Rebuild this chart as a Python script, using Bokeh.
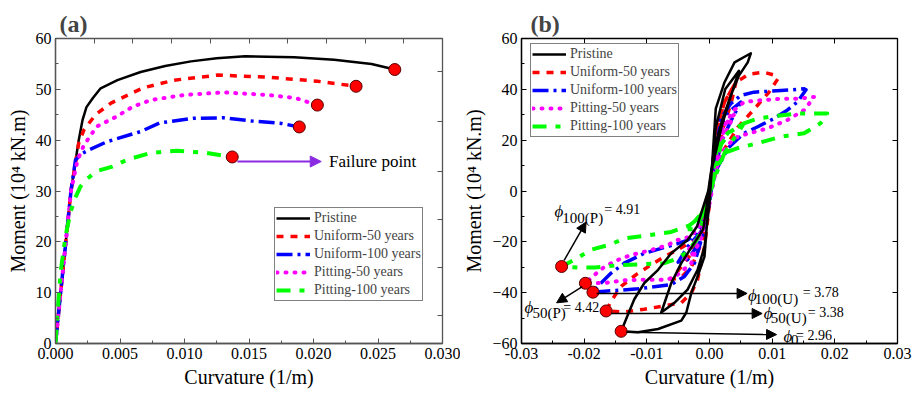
from bokeh.plotting import figure
from bokeh.layouts import row
from bokeh.models import (Range1d, LinearAxis, FixedTicker, SingleIntervalTicker,
                          NumeralTickFormatter, Legend, LegendItem, Arrow, NormalHead, Label)
from bokeh.embed import file_html
from bokeh.resources import INLINE

SERIF = "Liberation Serif"

names = ["Pristine", "Uniform-50 years", "Uniform-100 years", "Pitting-50 years", "Pitting-100 years"]

# ---------------- (a) moment-curvature curves ----------------
a_x_pristine = [0, 0.0004, 0.0008, 0.0012, 0.0018, 0.0021, 0.0024, 0.0029, 0.0035, 0.0048, 0.0066, 0.0085, 0.0105,
                0.0125, 0.0147, 0.0185, 0.0216, 0.0245, 0.0263]
a_y_pristine = [0, 10, 20, 30, 40, 44, 46.5, 48.3, 50.2, 51.8, 53.4, 54.6, 55.5,
                56.1, 56.5, 56.3, 55.8, 55.0, 53.9]
a_x_u50 = [0, 0.0004, 0.0008, 0.0012, 0.0018, 0.0022, 0.0031, 0.0043, 0.0068, 0.0092, 0.0126, 0.0164, 0.0203, 0.0233]
a_y_u50 = [0, 10, 20, 30, 39.4, 42, 45, 47.3, 50.3, 51.8, 52.8, 52.4, 51.6, 50.6]
a_x_u100 = [0, 0.0004, 0.0008, 0.0012, 0.00155, 0.002, 0.0026, 0.004, 0.0066, 0.0081, 0.0107, 0.013, 0.0151, 0.0175, 0.0189]
a_y_u100 = [0, 10, 20, 30, 36.1, 37.3, 38.1, 39.7, 41.7, 43.4, 44.3, 44.4, 43.8, 43.3, 42.6]
a_x_p50 = [0, 0.0004, 0.0008, 0.0012, 0.0017, 0.0022, 0.0032, 0.0047, 0.006, 0.0074, 0.0100, 0.013, 0.0164, 0.0186, 0.0203]
a_y_p50 = [0, 10, 20, 30, 36, 39, 42.7, 44.6, 46.6, 47.9, 48.9, 49.4, 48.9, 48.3, 46.9]
a_x_p100 = [0, 0.00013, 0.0004, 0.00078, 0.00116, 0.0015, 0.00194, 0.0024, 0.0032, 0.0044, 0.0056, 0.0074, 0.0094, 0.0117, 0.0137]
a_y_p100 = [0, 4.9, 14.1, 21.2, 25.8, 28.5, 30.9, 32.3, 33.9, 34.8, 36.2, 37.5, 37.9, 37.5, 36.7]

a_top_ticks = [0.003, 0.006, 0.009, 0.012, 0.015, 0.018, 0.021, 0.024, 0.027]
a_right_ticks = [5.5, 14.9, 24.3, 33.8, 43.7, 53.5]

# ---------------- (b) hysteresis curves ----------------
b_x_pristine = [0, 0.001, 0.0025, 0.0047, 0.0035, 0.002, 0.0005, -0.001, -0.0045, -0.0061, -0.0077, -0.0056, -0.0035,
                -0.0019, -0.0008, 0, 0.001, 0.0024, 0.004, 0.0066, 0.0061, 0.0047, 0.0034, 0.0021, 0.0008, -0.0002,
                -0.002, -0.0035, -0.0045, -0.0061, -0.0082, -0.0104, -0.012, -0.0133, -0.0141, -0.0114, -0.0082,
                -0.0045, -0.0037, -0.0029, -0.0019, -0.0008, 0]
b_y_pristine = [0, 25, 40, 47.3, 38, 26, 10, -15, -28.4, -36.2, -47.8, -44, -38.8,
                -31, -22, -5, 32.4, 42.8, 50.6, 54.2, 50.6, 45.4, 37.6, 28.5, 16.9, 0,
                -14, -19.3, -21.3, -24.5, -31, -36.2, -42.6, -50.4, -55.2, -55.6, -54.3,
                -51, -47.8, -40.1, -33.6, -25.8, 0]
b_x_u50 = [0, 0.0012, 0.0024, 0.0042, 0.0035, 0.0022, 0.0008, -0.0008, -0.003, -0.0061, -0.0045, -0.0029, -0.0012, 0,
           0.0012, 0.0024, 0.0042, 0.0063, 0.0087, 0.0105, 0.0109, 0.0095, 0.0072, 0.0045, 0.002, 0, -0.0015,
           -0.0051, -0.0072, -0.0093, -0.0117, -0.0141, -0.0157, -0.0165, -0.0136, -0.0104, -0.0072, -0.0045,
           -0.0029, -0.0019, -0.0008, 0]
b_y_u50 = [0, 25, 35, 42.8, 35, 25, 10, -15, -25, -34.8, -34, -30, -20, -5,
           25, 35, 42.8, 46, 46.7, 45.5, 44.1, 38.9, 32.4, 25, 15, 0, -18,
           -23.2, -25.8, -29, -32.9, -37.5, -43.3, -47.2, -47.6, -46.5, -45.2, -44,
           -40.1, -34.9, -22, -5]
b_x_u100 = [0, 0.001, 0.0025, 0.005, 0.0035, 0.002, 0.0005, -0.001, -0.0035, -0.005, -0.0035, -0.0015, 0,
            0.0018, 0.0034, 0.005, 0.0071, 0.0114, 0.0151, 0.0154, 0.014, 0.0124, 0.0103, 0.0077, 0.0055, 0.003,
            0.001, -0.0005, -0.002, -0.0035, -0.0051, -0.0077, -0.0104, -0.0136, -0.0157, -0.0173, -0.0186,
            -0.0167, -0.0141, -0.0114, -0.0082, -0.0061, -0.004, -0.0024, -0.0008, 0]
b_y_u100 = [0, 20, 30, 35, 28, 20, 5, -15, -22, -28, -27, -20, -5,
            28.5, 34.4, 37.6, 38.9, 39.5, 40.2, 39.8, 35, 31.8, 28.5, 25.3, 22.7, 17,
            8, -8, -17, -19.3, -20.7, -22.6, -24.5, -28.4, -32.3, -36.2, -39.8,
            -39.4, -39, -38.5, -37.5, -36.8, -33.6, -28.4, -15, 0]
b_x_p50 = [0, 0.0012, 0.0024, 0.0039, 0.003, 0.0015, 0.0003, -0.001, -0.003, -0.0045, -0.003, -0.0015, 0,
           0.0024, 0.0039, 0.0055, 0.0077, 0.0114, 0.014, 0.0167, 0.0151, 0.0124, 0.0093, 0.0055, 0.0039, 0.002,
           0.0005, -0.001, -0.003, -0.0051, -0.0067, -0.0093, -0.0125, -0.0146, -0.0167, -0.0183, -0.0198,
           -0.0167, -0.0136, -0.0098, -0.0067, -0.0051, -0.0029, -0.001, 0]
b_y_p50 = [0, 20, 26, 30, 25, 18, 5, -15, -22, -27, -26, -20, -5,
           25.9, 31.8, 35, 35.6, 36.3, 36.3, 37, 31.8, 27.9, 24.7, 22.1, 20.8, 15,
           5, -12, -18, -19.3, -21.3, -23.2, -25.2, -27.1, -29.7, -32.9, -36.3,
           -36.2, -35.1, -34.9, -34.9, -32.9, -28.4, -15, 0]
b_x_p100 = [0, 0.0013, 0.003, 0.0055, 0.004, 0.0024, 0.0008, -0.001, -0.0024, -0.004, -0.0025, -0.0012, 0,
            0.0018, 0.0034, 0.0055, 0.0077, 0.0109, 0.014, 0.0167, 0.0188, 0.0177, 0.0151, 0.0114, 0.0077, 0.0045,
            0.0024, 0.001, -0.001, -0.0024, -0.0061, -0.0098, -0.0136, -0.016, -0.0189, -0.0215, -0.0236,
            -0.021, -0.0183, -0.0141, -0.0104, -0.0072, -0.0051, -0.0035, -0.0019, -0.0005, 0]
b_y_p100 = [0, 18, 23, 26.6, 21, 15, 5, -8, -12, -15, -15, -10, -3,
            18.2, 23.4, 26.6, 28.5, 29.6, 30.5, 30.5, 30.5, 26.6, 22.7, 21.4, 18.8, 16.9,
            15, 8, -8, -12.9, -16.1, -17.4, -18.7, -21.2, -23.1, -27, -29.7,
            -30.1, -30.1, -29.1, -28.8, -28.4, -26.5, -23.9, -18.7, -8, 0]

# ductility labels: (subscript, value)
duct_labels = [("100(P)", "4.91"), ("50(P)", "4.42"), ("100(U)", "3.78"), ("50(U)", "3.38"), ("0", "2.96")]

colors = ["#000000", "#ff0000", "#0000ff", "#ff00ff", "#00ff00"]
dashes = ["solid", "7 7", "16 5 3 5", "1 8", "14 9 5 9"]
widths = [2.5, 3.5, 3.5, 4, 4]
caps = ["butt", "butt", "butt", "round", "butt"]


def style_main_axes(p, color):
    for ax in p.xaxis + p.yaxis:
        ax.major_label_text_font = SERIF
        ax.major_label_text_font_size = "16px"
        ax.major_label_text_color = "black"
        ax.axis_label_text_font = SERIF
        ax.axis_label_text_font_size = "20px"
        ax.axis_label_text_font_style = "normal"
        ax.axis_label_text_color = "black"
        ax.major_tick_in = 5
        ax.major_tick_out = 0
        ax.minor_tick_in = 3
        ax.minor_tick_out = 0
        ax.axis_line_color = color
        ax.major_tick_line_color = color
        ax.minor_tick_line_color = color
        ax.axis_line_width = 1.3
        ax.major_label_standoff = 4
        ax.axis_label_standoff = 4
    p.grid.visible = False
    p.outline_line_color = color
    p.outline_line_width = 1.3


def mirror_axis(p, loc, ticks, color):
    ax = LinearAxis(ticker=FixedTicker(ticks=ticks, minor_ticks=[]))
    ax.major_label_text_font_size = "0px"
    ax.major_label_text_color = None
    ax.major_label_standoff = 0
    ax.major_tick_in = 5
    ax.major_tick_out = 0
    ax.axis_line_color = color
    ax.major_tick_line_color = color
    ax.minor_tick_line_color = None
    p.add_layout(ax, loc)


def style_title(p, text, off):
    p.title.text = text
    p.title.text_font = SERIF
    p.title.text_font_size = "24px"
    p.title.text_font_style = "bold"
    p.title.align = "left"
    p.title.offset = off
    p.title.standoff = 3


def make_legend(items, loc):
    leg = Legend(items=items, location=loc)
    leg.label_text_font = SERIF
    leg.label_text_font_size = "14px"
    leg.border_line_color = "black"
    leg.border_line_width = 1
    leg.padding = 1
    leg.spacing = 0
    leg.margin = 0
    leg.glyph_width = 34
    leg.glyph_height = 18
    leg.label_height = 18
    leg.label_standoff = 4
    return leg


# ================= panel (a) =================
p1 = figure(width=460, height=396, x_range=Range1d(0, 0.03), y_range=Range1d(0, 60),
            output_backend="svg", toolbar_location=None,
            min_border_left=55, min_border_right=18, min_border_top=38, min_border_bottom=51)
p1.xaxis.ticker = SingleIntervalTicker(interval=0.005, num_minor_ticks=2)
p1.yaxis.ticker = SingleIntervalTicker(interval=10, num_minor_ticks=2)
p1.xaxis.formatter = NumeralTickFormatter(format="0.000")
p1.xaxis.axis_label = "Curvature (1/m)"
p1.yaxis.axis_label = "Moment (10\u2074 kN.m)"
style_main_axes(p1, "#555555")
mirror_axis(p1, "above", a_top_ticks, "#555555")
mirror_axis(p1, "right", a_right_ticks, "#555555")
style_title(p1, "(a)", 4)

a_xs = [a_x_pristine, a_x_u50, a_x_u100, a_x_p50, a_x_p100]
a_ys = [a_y_pristine, a_y_u50, a_y_u100, a_y_p50, a_y_p100]
a_items = []
for i in range(5):
    r = p1.line(a_xs[i], a_ys[i], line_color=colors[i], line_dash=dashes[i], line_width=widths[i],
                line_cap=caps[i], line_join="round")
    a_items.append(LegendItem(label=names[i], renderers=[r]))
p1.scatter([xs[-1] for xs in a_xs], [ys[-1] for ys in a_ys], size=12, fill_color="#ff0000",
           line_color="#550000", line_width=1)
p1.add_layout(Arrow(end=NormalHead(size=11, fill_color="#8a2be2", line_color="#8a2be2"),
                    x_start=0.0141, y_start=35.8, x_end=0.0206, y_end=35.8,
                    line_color="#8a2be2", line_width=2))
p1.add_layout(Label(x=0.0212, y=35.8, text="Failure point", text_font=SERIF, text_font_size="17px",
                    text_font_style="normal", text_baseline="middle", text_color="black"))
p1.add_layout(make_legend(a_items, (219, 42)))

# ================= panel (b) =================
p2 = figure(width=459, height=396, x_range=Range1d(-0.03, 0.03), y_range=Range1d(-60, 60),
            output_backend="svg", toolbar_location=None,
            min_border_left=60, min_border_right=22, min_border_top=34, min_border_bottom=53)
p2.xaxis.ticker = SingleIntervalTicker(interval=0.01, num_minor_ticks=2)
p2.yaxis.ticker = SingleIntervalTicker(interval=20, num_minor_ticks=2)
p2.xaxis.formatter = NumeralTickFormatter(format="0.00")
p2.xaxis.axis_label = "Curvature (1/m)"
p2.yaxis.axis_label = "Moment (10\u2074 kN.m)"
style_main_axes(p2, "#000000")
mirror_axis(p2, "above", [-0.02, -0.01, 0.0, 0.01, 0.02], "#000000")
mirror_axis(p2, "right", [-40, -20, 0, 20, 40], "#000000")
style_title(p2, "(b)", 9)

b_xs = [b_x_pristine, b_x_u50, b_x_u100, b_x_p50, b_x_p100]
b_ys = [b_y_pristine, b_y_u50, b_y_u100, b_y_p50, b_y_p100]
b_rend = [None] * 5
for i in [1, 2, 3, 4, 0]:
    b_rend[i] = p2.line(b_xs[i], b_ys[i], line_color=colors[i], line_dash=dashes[i], line_width=widths[i],
                        line_cap=caps[i], line_join="round")
b_items = [LegendItem(label=names[i], renderers=[b_rend[i]]) for i in range(5)]

fx, fy = [], []
for xs, ys in zip(b_xs, b_ys):
    k = xs.index(min(xs))
    fx.append(xs[k])
    fy.append(ys[k])
p2.scatter(fx, fy, size=12, fill_color="#ff0000", line_color="#550000", line_width=1)

arrow_spec = [((-0.0232, -27.3), (-0.0197, -12.2)),
              ((-0.0203, -37.6), (-0.0244, -44.0)),
              ((-0.0180, -40.3), (0.0060, -40.3)),
              ((-0.0157, -48.2), (0.0084, -48.2)),
              ((-0.0133, -55.6), (0.0107, -56.5))]
for (xs0, ys0), (xe, ye) in arrow_spec:
    p2.add_layout(Arrow(end=NormalHead(size=10, fill_color="black", line_color="black"),
                        x_start=xs0, y_start=ys0, x_end=xe, y_end=ye, line_color="black", line_width=1.5))

# label anchors: phi position, subscript position, value position
label_pos = [((-0.02475, -8.0), (-0.02348, -10.5), (-0.01679, -7.3)),
             ((-0.02952, -45.9), (-0.02825, -48.0), (-0.02332, -45.7)),
             ((0.00613, -41.0), (0.00724, -42.6), (0.01488, -40.0)),
             ((0.00867, -48.0), (0.00979, -50.0), (0.01568, -47.7)),
             ((0.0118, -57.3), (0.0130, -58.6), (0.0138, -56.7))]
for (sub, val), (pp, sp, vp) in zip(duct_labels, label_pos):
    p2.add_layout(Label(x=pp[0], y=pp[1], text="\u03d5", text_font=SERIF, text_font_size="17px",
                        text_font_style="italic", text_baseline="alphabetic", text_color="black"))
    p2.add_layout(Label(x=sp[0], y=sp[1], text=sub, text_font=SERIF, text_font_size="15px",
                        text_baseline="alphabetic", text_color="black"))
    p2.add_layout(Label(x=vp[0], y=vp[1], text="= " + val, text_font=SERIF, text_font_size="14px",
                        text_baseline="alphabetic", text_color="black"))
p2.add_layout(make_legend(b_items, (9, 206)))

layout = row(p1, p2)
open("out.html", "w").write(file_html(layout, INLINE))
